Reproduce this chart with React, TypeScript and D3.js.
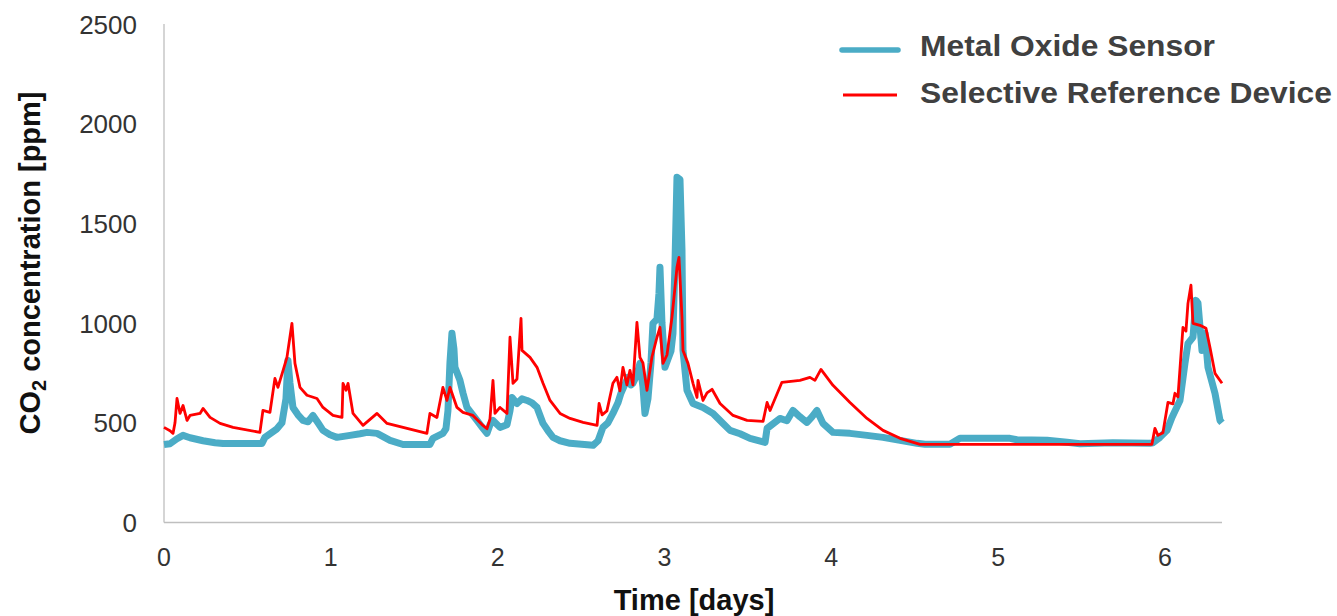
import React from "react";
import * as d3 from "d3";

// Metal Oxide Sensor: [day, ppm]
const moxSeries: [number, number][] = [
  [0, 391], [0.036, 395], [0.078, 420], [0.114, 437], [0.156, 425], [0.234, 410],
  [0.306, 400], [0.354, 396], [0.587, 396], [0.605, 427], [0.677, 470], [0.707, 500],
  [0.731, 620], [0.743, 813], [0.755, 700], [0.773, 577], [0.803, 540], [0.833, 512],
  [0.863, 505], [0.893, 537], [0.923, 500], [0.953, 462], [0.995, 440], [1.037, 427],
  [1.115, 437], [1.175, 445], [1.217, 452], [1.277, 447], [1.355, 412], [1.433, 391],
  [1.594, 391], [1.612, 422], [1.672, 447], [1.69, 470], [1.702, 560], [1.714, 800],
  [1.726, 949], [1.738, 870], [1.744, 778], [1.774, 713], [1.792, 650], [1.816, 577],
  [1.876, 512], [1.912, 472], [1.936, 447], [1.954, 490], [1.972, 512], [2.014, 477],
  [2.056, 490], [2.074, 560], [2.086, 627], [2.116, 597], [2.146, 620], [2.176, 612],
  [2.206, 600], [2.236, 577], [2.272, 497], [2.302, 460], [2.332, 427], [2.374, 410],
  [2.434, 397], [2.572, 387], [2.602, 410], [2.631, 477], [2.661, 500], [2.691, 547],
  [2.721, 600], [2.739, 648], [2.781, 728], [2.799, 690], [2.811, 698], [2.835, 740],
  [2.853, 798], [2.871, 680], [2.883, 547], [2.901, 620], [2.919, 800], [2.931, 999],
  [2.955, 1020], [2.967, 1150], [2.973, 1280], [2.985, 1000], [3.003, 778], [3.021, 820],
  [3.039, 860], [3.051, 949], [3.063, 1300], [3.075, 1732], [3.093, 1720], [3.105, 1365],
  [3.111, 863], [3.135, 663], [3.171, 597], [3.231, 577], [3.291, 547], [3.351, 497],
  [3.393, 462], [3.453, 445], [3.513, 422], [3.603, 402], [3.615, 472], [3.692, 522],
  [3.734, 510], [3.77, 562], [3.812, 530], [3.854, 502], [3.884, 530], [3.914, 562],
  [3.95, 497], [4.01, 452], [4.112, 447], [4.214, 437], [4.31, 427], [4.412, 412],
  [4.514, 397], [4.562, 392], [4.711, 392], [4.771, 422], [5.071, 422], [5.113, 415],
  [5.293, 413], [5.413, 402], [5.491, 395], [5.688, 400], [5.91, 397], [5.928, 400],
  [5.97, 427], [6.012, 462], [6.042, 527], [6.09, 612], [6.12, 798], [6.138, 898],
  [6.168, 929], [6.186, 1114], [6.198, 1100], [6.222, 863], [6.24, 950], [6.258, 778],
  [6.3, 648], [6.33, 512], [6.342, 500],
];

// Selective Reference Device: [day, ppm]
const refSeries: [number, number][] = [
  [0, 477], [0.036, 460], [0.054, 447], [0.066, 500], [0.078, 622], [0.096, 547],
  [0.114, 587], [0.138, 512], [0.156, 537], [0.216, 547], [0.234, 572], [0.276, 527],
  [0.336, 497], [0.414, 477], [0.575, 452], [0.593, 562], [0.635, 552], [0.665, 723],
  [0.683, 678], [0.713, 760], [0.737, 828], [0.767, 999], [0.785, 798], [0.815, 678],
  [0.857, 638], [0.917, 622], [0.953, 577], [1.013, 537], [1.067, 527], [1.073, 698],
  [1.091, 663], [1.103, 698], [1.133, 547], [1.193, 487], [1.277, 547], [1.337, 497],
  [1.373, 490], [1.433, 477], [1.576, 447], [1.594, 547], [1.636, 527], [1.672, 678],
  [1.696, 612], [1.714, 678], [1.756, 577], [1.792, 552], [1.852, 537], [1.912, 487],
  [1.936, 470], [1.954, 520], [1.972, 713], [1.984, 547], [2.014, 577], [2.056, 547],
  [2.074, 929], [2.092, 698], [2.116, 720], [2.14, 1024], [2.146, 863], [2.194, 828],
  [2.236, 778], [2.272, 698], [2.314, 612], [2.374, 547], [2.434, 522], [2.512, 502],
  [2.596, 487], [2.608, 597], [2.626, 540], [2.655, 560], [2.691, 698], [2.715, 728],
  [2.733, 660], [2.751, 778], [2.775, 690], [2.793, 763], [2.811, 690], [2.835, 1004],
  [2.853, 828], [2.871, 800], [2.895, 663], [2.925, 830], [2.955, 929], [2.973, 979],
  [2.991, 798], [3.015, 840], [3.045, 1029], [3.075, 1280], [3.087, 1330], [3.105, 1029],
  [3.111, 863], [3.141, 798], [3.171, 698], [3.195, 627], [3.201, 713], [3.231, 612],
  [3.255, 650], [3.285, 668], [3.333, 597], [3.411, 537], [3.495, 512], [3.591, 507],
  [3.615, 602], [3.633, 562], [3.704, 703], [3.812, 713], [3.872, 728], [3.902, 713],
  [3.938, 768], [4.01, 688], [4.112, 602], [4.214, 522], [4.31, 462], [4.412, 422],
  [4.532, 392], [5.922, 392], [5.94, 472], [5.958, 437], [5.988, 450], [6.018, 602],
  [6.048, 595], [6.06, 648], [6.078, 630], [6.108, 979], [6.126, 960], [6.138, 1099],
  [6.156, 1190], [6.168, 999], [6.21, 989], [6.246, 974], [6.27, 878], [6.3, 748],
  [6.342, 698],
];

const xTicks = [0, 1, 2, 3, 4, 5, 6];
const yTicks = [0, 500, 1000, 1500, 2000, 2500];
const legendLabels = ["Metal Oxide Sensor", "Selective Reference Device"];

const FONT = "'Liberation Sans', Arial, Helvetica, sans-serif";

export default function App() {
  const W = 1337;
  const H = 616;
  const x = d3.scaleLinear().domain([0, 6.342]).range([164, 1222]);
  const y = d3.scaleLinear().domain([0, 2500]).range([522.5, 24]);
  const line = d3
    .line<[number, number]>()
    .x((d) => x(d[0]))
    .y((d) => y(d[1]));

  return (
    <div style={{ position: "absolute", left: 0, top: 0 }}>
      <svg width={W} height={H} style={{ display: "block", background: "#fff" }}>
        {/* axes */}
        <line x1={x(0)} x2={x(0)} y1={y(2500)} y2={y(0)} stroke="#bfbfbf" strokeWidth={1.3} />
        <line x1={x(0)} x2={x(6.342)} y1={y(0)} y2={y(0)} stroke="#bfbfbf" strokeWidth={1.3} />

        {/* y ticks */}
        {yTicks.map((t) => (
          <text
            key={"y" + t}
            x={137}
            y={y(t) + 9.5}
            textAnchor="end"
            fontFamily={FONT}
            fontSize={26}
            fill="#333"
          >
            {t}
          </text>
        ))}

        {/* x ticks */}
        {xTicks.map((t) => (
          <text
            key={"x" + t}
            x={x(t)}
            y={566}
            textAnchor="middle"
            fontFamily={FONT}
            fontSize={25}
            fill="#333"
          >
            {t}
          </text>
        ))}

        {/* axis titles */}
        <text
          x={694}
          y={610}
          textAnchor="middle"
          fontFamily={FONT}
          fontSize={29}
          fontWeight="bold"
          fill="#111"
        >
          Time [days]
        </text>
        <text
          transform="translate(40,263) rotate(-90)"
          textAnchor="middle"
          fontFamily={FONT}
          fontSize={29}
          fontWeight="bold"
          fill="#111"
        >
          CO
          <tspan fontSize={20} dy={6}>
            2
          </tspan>
          <tspan dy={-6}> concentration [ppm]</tspan>
        </text>

        {/* series */}
        <path
          d={line(moxSeries) || ""}
          fill="none"
          stroke="#4bacc6"
          strokeWidth={7}
          strokeLinejoin="round"
        />
        <path
          d={line(refSeries) || ""}
          fill="none"
          stroke="#ff0000"
          strokeWidth={2.8}
          strokeLinejoin="round"
        />

        {/* legend */}
        <line x1={842} x2={898} y1={50} y2={50} stroke="#4bacc6" strokeWidth={5.5} strokeLinecap="round" />
        <line x1={843} x2={897} y1={95} y2={95} stroke="#ff0000" strokeWidth={3} />
        <text
          x={920}
          y={56}
          fontFamily={FONT}
          fontSize={29}
          fontWeight="bold"
          fill="#404040"
          textLength={295}
          lengthAdjust="spacingAndGlyphs"
        >
          {legendLabels[0]}
        </text>
        <text
          x={920}
          y={103}
          fontFamily={FONT}
          fontSize={29}
          fontWeight="bold"
          fill="#404040"
          textLength={412}
          lengthAdjust="spacingAndGlyphs"
        >
          {legendLabels[1]}
        </text>
      </svg>
    </div>
  );
}
